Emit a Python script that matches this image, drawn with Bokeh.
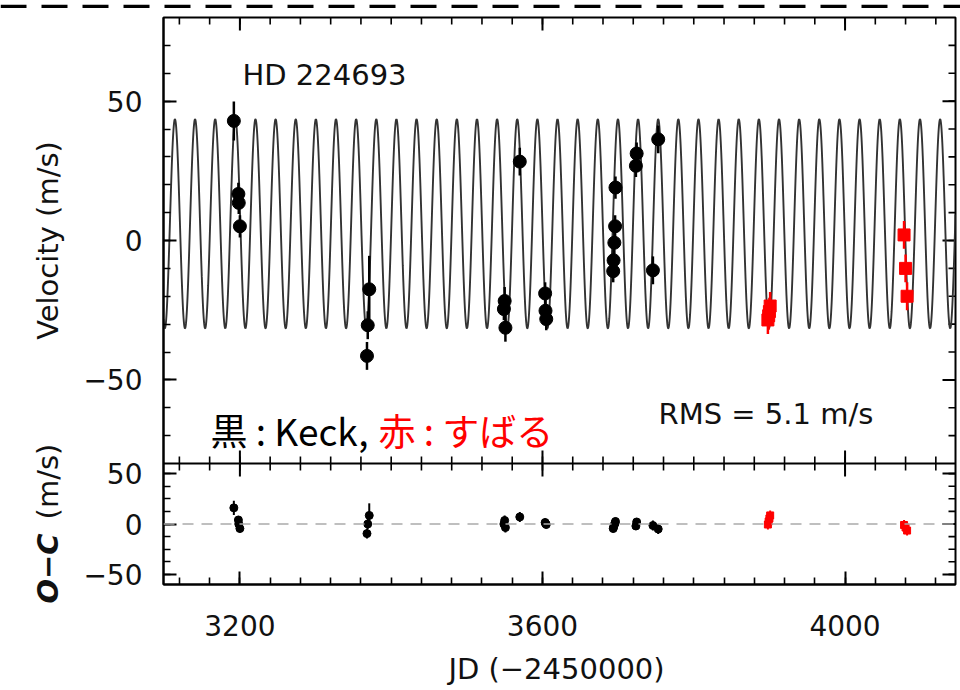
import numpy as np
from bokeh.plotting import figure
from bokeh.models import (Range1d, SingleIntervalTicker, FixedTicker, Span, Label,
                          ColumnDataSource)
from bokeh.layouts import column, row
from bokeh.embed import file_html
from bokeh.resources import INLINE

# ---------------- data ----------------
# Keck (black)
keck_jd = [3192, 3198, 3198.5, 3200, 3371, 3369, 3368, 3550, 3549, 3551, 3570,
           3603.5, 3604, 3605, 3696.5, 3696, 3695, 3694, 3693.5, 3724.5, 3723.5,
           3746, 3753]
keck_rv = [42.9, 16.7, 13.5, 5.1, -17.5, -30.4, -41.4, -21.7, -24.6, -31.3, 28.3,
           -19.0, -25.2, -28.2, 19.0, 5.1, -0.8, -7.1, -11.0, 31.2, 26.8,
           -10.7, 36.3]
keck_err = [7, 4, 4, 4, 12, 5, 5, 5, 4, 5, 5,
            4, 4, 4, 4, 4, 4, 4, 4, 4, 4,
            5, 5]
keck_res = [16, 4, 0, -4.5, 8.5, 0, -9.5, 3.5, 0, -3.5, 7,
            1.5, 0.5, -0.5, 2.5, 1, -1, -3, -4.5, 2, -2,
            -1.5, -5]

# Subaru (red)
subaru_jd = [3901, 3900, 3899, 3898, 4078, 4080, 4082]
subaru_rv = [-23.5, -25.5, -27, -28.5, 2, -10, -20]
subaru_err = [5, 5, 5, 5, 5, 5, 5]
subaru_res = [8.5, 5.5, 2.5, -0.5, -1, -3.5, -6.5]

# Orbit model (circular orbit fit)
period = 26.62
semi_amp = 37.5
epoch_peak = 3114.1
offset = 6.0

# axes
x_lo, x_hi = 3099, 4146
x_major = [3200, 3600, 4000]
x_minor = list(range(3120, 4141, 40))
v_lo, v_hi = -80, 80
v_major = [-50, 0, 50]
v_minor = list(range(-70, 71, 10))
r_lo, r_hi = -60, 60
r_major = [-50, 0, 50]
r_minor = [-50, -37.5, -25, -12.5, 0, 12.5, 25, 37.5, 50]
tick_text = {-50: "\u221250", 0: "0", 50: "50"}

# ---------------- layout (page pixels) ----------------
W, H = 960, 690
H_STRIP = 8                 # dashed rule at the very top
W_TITLE = 80                # strip holding the rotated y titles
H_XTITLE = 40               # strip holding the x title
FL, FR = 163, 955           # frame left / right
FT, DIV, FB = 17, 463, 584  # frame top, panel divider, frame bottom
top_h, bot_h = DIV - FT, FB - DIV
H_MAIN = H - H_STRIP - H_XTITLE
W_MAIN = W - W_TITLE
B_TOP = FT - H_STRIP
B_BOT = H_STRIP + H_MAIN - FB

FONT = "DejaVu Sans"
CJK = "Noto Sans CJK JP"
RED = "#ff0000"
INK = "#111111"

# primary y range = velocity scale extended over the residual panel
v_per_px = (v_hi - v_lo) / top_h
y_lo_primary = v_lo - bot_h * v_per_px
r_per_px = (r_hi - r_lo) / bot_h
r_hi_extended = r_hi + top_h * r_per_px


def res_to_primary(r):
    return v_lo - (r_hi - r) / r_per_px * v_per_px


def px_x(px):
    return x_lo + (px - FL) * (x_hi - x_lo) / (FR - FL)


def px_y(py):
    return v_hi - (py - FT) * v_per_px


def src(jd, v, e):
    jd = np.array(jd, float); v = np.array(v, float); e = np.array(e, float)
    return ColumnDataSource(dict(x=jd, y=v, lo=v - e, hi=v + e))


keck_top = src(keck_jd, keck_rv, keck_err)
sub_top = src(subaru_jd, subaru_rv, subaru_err)
keck_bot = src(keck_jd, keck_res, keck_err)
sub_bot = src(subaru_jd, subaru_res, subaru_err)

t_model = np.linspace(x_lo, x_hi, 3000)
v_model = offset + semi_amp * np.cos(2 * np.pi * (t_model - epoch_peak) / period)


def blank(width, height, y_range=None):
    f = figure(width=width, height=height, x_range=Range1d(0, width),
               y_range=y_range if y_range is not None else Range1d(0, height),
               toolbar_location=None, output_backend="svg", min_border=0,
               x_axis_location=None, y_axis_location=None,
               outline_line_color=None)
    f.grid.visible = False
    return f


# ---------------- dashed line strip at top ----------------
dash = blank(W, H_STRIP)
dash.add_layout(Span(location=H_STRIP - 3, dimension="width", line_color="black",
                     line_width=6, line_dash="26 15"))

# ---------------- y titles strip ----------------
# data y = minus the page pixel row (strip covers page rows H_STRIP .. H_STRIP + H_MAIN)
ytitles = blank(W_TITLE, H_MAIN, y_range=Range1d(-(H_STRIP + H_MAIN), -H_STRIP))

ytitles.add_layout(Label(x=47, y=-240, text="Velocity (m/s)", angle=np.pi / 2,
                         text_font=FONT, text_font_size="29px", text_color=INK,
                         text_align="center", text_baseline="middle"))
ytitles.add_layout(Label(x=47, y=-568, text="O\u2212C", angle=np.pi / 2,
                         text_font=FONT, text_font_size="29px", text_color=INK,
                         text_font_style="bold italic",
                         text_align="center", text_baseline="middle"))
ytitles.add_layout(Label(x=47, y=-481, text="(m/s)", angle=np.pi / 2,
                         text_font=FONT, text_font_size="29px", text_color=INK,
                         text_align="center", text_baseline="middle"))

# ---------------- x title strip ----------------
xtitle = blank(W, H_XTITLE)
xtitle.add_layout(Label(x=556, y=H - 668, text="JD (\u22122450000)",
                        text_font=FONT, text_font_size="29px", text_color=INK,
                        text_align="center", text_baseline="middle"))

# ---------------- main figure (both panels) ----------------
p = figure(width=W_MAIN, height=H_MAIN, x_range=Range1d(x_lo, x_hi),
           y_range=Range1d(y_lo_primary, v_hi),
           toolbar_location=None, output_backend="svg",
           min_border_left=FL - W_TITLE, min_border_right=W - FR,
           min_border_top=B_TOP, min_border_bottom=B_BOT)
p.extra_y_ranges = {"res": Range1d(r_lo, r_hi_extended)}
p.grid.visible = False
p.outline_line_color = "black"
p.outline_line_width = 2

# left axis: ticks + labels for both panels
yl = p.yaxis[0]
left_major = v_major + [res_to_primary(r) for r in r_major]
left_minor = v_minor + [res_to_primary(r) for r in r_minor]
yl.ticker = FixedTicker(ticks=left_major, minor_ticks=left_minor)
overrides = {v: tick_text[v] for v in v_major}
overrides.update({res_to_primary(r): tick_text[r] for r in r_major})
yl.major_label_overrides = overrides

xb = p.xaxis[0]
xb.ticker = SingleIntervalTicker(interval=400, num_minor_ticks=10)

for ax in (yl, xb):
    ax.axis_line_color = "black"
    ax.axis_line_width = 2
    ax.major_tick_in = 13
    ax.major_tick_out = 0
    ax.minor_tick_in = 7
    ax.minor_tick_out = 0
    ax.major_tick_line_width = 2
    ax.minor_tick_line_width = 1.6
    ax.major_tick_line_color = "black"
    ax.minor_tick_line_color = "black"
    ax.major_label_text_font = FONT
    ax.major_label_text_font_size = "28px"
    ax.major_label_text_color = INK
yl.major_label_standoff = 21
xb.major_label_standoff = 30


# mirrored inward ticks (top edge, divider, right edge) as half-clipped dash markers
def ticks(xs, ys, size, angle, lw, rng="default"):
    p.scatter(x=xs, y=ys, marker="dash", size=size, angle=angle, line_color="black",
              line_width=lw, y_range_name=rng)


for yv in (v_hi, v_lo):
    ticks(x_major, [yv] * len(x_major), 26, np.pi / 2, 2)
    ticks(x_minor, [yv] * len(x_minor), 14, np.pi / 2, 1.6)
ticks([x_hi] * len(v_major), v_major, 26, 0, 2)
ticks([x_hi] * len(v_minor), v_minor, 14, 0, 1.6)
ticks([x_hi] * len(r_major), r_major, 26, 0, 2, "res")
ticks([x_hi] * len(r_minor), r_minor, 14, 0, 1.6, "res")

# divider between panels and zero line of O-C panel
p.add_layout(Span(location=v_lo, dimension="width", line_color="black", line_width=2))
p.add_layout(Span(location=0, dimension="width", y_range_name="res", line_color="#aaaaaa",
                  line_width=1.5, line_dash="11 8"))

# top panel: model + data
p.line(t_model, v_model, line_color="#333333", line_width=1.9)
p.segment(x0="x", x1="x", y0="lo", y1="hi", source=keck_top, line_color="black", line_width=2.5)
p.scatter(x="x", y="y", source=keck_top, marker="circle", size=13,
          fill_color="black", line_color="black")
p.segment(x0="x", x1="x", y0="lo", y1="hi", source=sub_top, line_color=RED, line_width=2.5)
p.scatter(x="x", y="y", source=sub_top, marker="square", size=12,
          fill_color=RED, line_color=RED)

# bottom panel: residuals
p.segment(x0="x", x1="x", y0="lo", y1="hi", source=keck_bot, line_color="black",
          line_width=2, y_range_name="res")
p.scatter(x="x", y="y", source=keck_bot, marker="circle", size=8,
          fill_color="black", line_color="black", y_range_name="res")
p.segment(x0="x", x1="x", y0="lo", y1="hi", source=sub_bot, line_color=RED,
          line_width=2, y_range_name="res")
p.scatter(x="x", y="y", source=sub_bot, marker="square", size=7,
          fill_color=RED, line_color=RED, y_range_name="res")

# texts inside the panels
p.add_layout(Label(x=px_x(242), y=px_y(74), text="HD 224693", text_font=FONT,
                   text_font_size="29px", text_color=INK, text_baseline="alphabetic"))
p.add_layout(Label(x=px_x(658), y=px_y(413), text="RMS = 5.1 m/s", text_font=FONT,
                   text_font_size="29px", text_color=INK, text_baseline="alphabetic"))
p.add_layout(Label(x=px_x(210), y=px_y(429), text="黒 : Keck,", text_font=CJK,
                   text_font_size="37px", text_color="black", text_baseline="alphabetic"))
p.add_layout(Label(x=px_x(378), y=px_y(429), text="赤 : すばる", text_font=CJK,
                   text_font_size="37px", text_color=RED, text_baseline="alphabetic"))

# p wrapped in its own column so the title strip is not border-aligned to it
layout = column(dash, row(ytitles, column(p, spacing=0), spacing=0), xtitle, spacing=0)
open("out.html", "w").write(file_html(layout, INLINE))
